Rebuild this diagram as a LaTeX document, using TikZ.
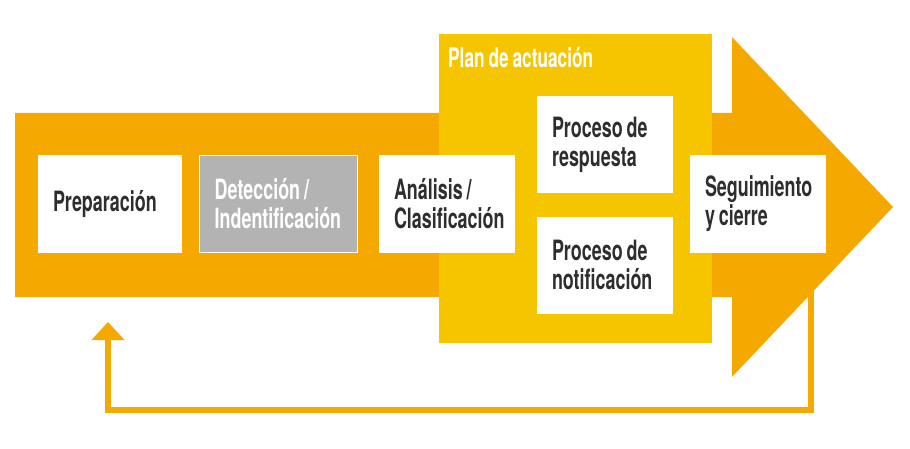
\documentclass[tikz,border=0pt]{standalone}
\usepackage{fontspec}
\setmainfont{TeX Gyre Heros}[FakeStretch=0.64, WordSpace=0.8]
\usepackage{tikz}
\usetikzlibrary{positioning, arrows.meta}
\definecolor{bandorange}{HTML}{F5A800}
\definecolor{planyellow}{HTML}{F5C500}
\definecolor{boxgrey}{HTML}{B3B3B3}
\definecolor{textdark}{HTML}{2E2E2E}

\begin{document}
\begin{tikzpicture}[x=1pt, y=-1pt,
block/.style={fill=white, rectangle, inner xsep=15pt, inner ysep=0pt, minimum height=97pt, text width=#1, align=flush left, text=textdark, font=\bfseries\fontsize{28}{29}\selectfont},
block/.default=106pt,
greyblock/.style={block=#1, fill=boxgrey, draw=white, line width=1pt, text=white},
back/.style={draw=bandorange, line width=6pt, -{Triangle[width=32pt, length=18pt]}}]

\useasboundingbox (0,0) rectangle (910,449);

\fill[bandorange] (15,113) -- (732,113) -- (732,37) -- (893,207) -- (732,377) -- (732,297) -- (15,297) -- cycle;
\fill[planyellow] (439,34) rectangle (712,343);

\node[anchor=base west, inner sep=0pt, text=white, font=\bfseries\fontsize{27}{28}\selectfont]	(plan)	at (448,68)	{Plan de actuación};

\node[block=114pt]						(prep)	at (110,204)	{Preparación};
\node[greyblock=128pt]					(det)[right=17pt of prep]	{Detección /\\Indentificación};
\node[block]							(ana)	at (447,204)	{Análisis /\\Clasificación};
\node[block]							(resp)	at (605,145)	{Proceso de\\respuesta};
\node[block]							(notif)[below=23pt of resp]	{Proceso de\\notificación};
\node[block]							(seg)	at (758,204)	{Seguimiento\\y cierre};

\coordinate (turn) at (108,410);
\coordinate (fin) at (108,322);

\draw[back] ([xshift=-15pt]seg.south east) |- (turn) -- (fin);

\end{tikzpicture}
\end{document}
